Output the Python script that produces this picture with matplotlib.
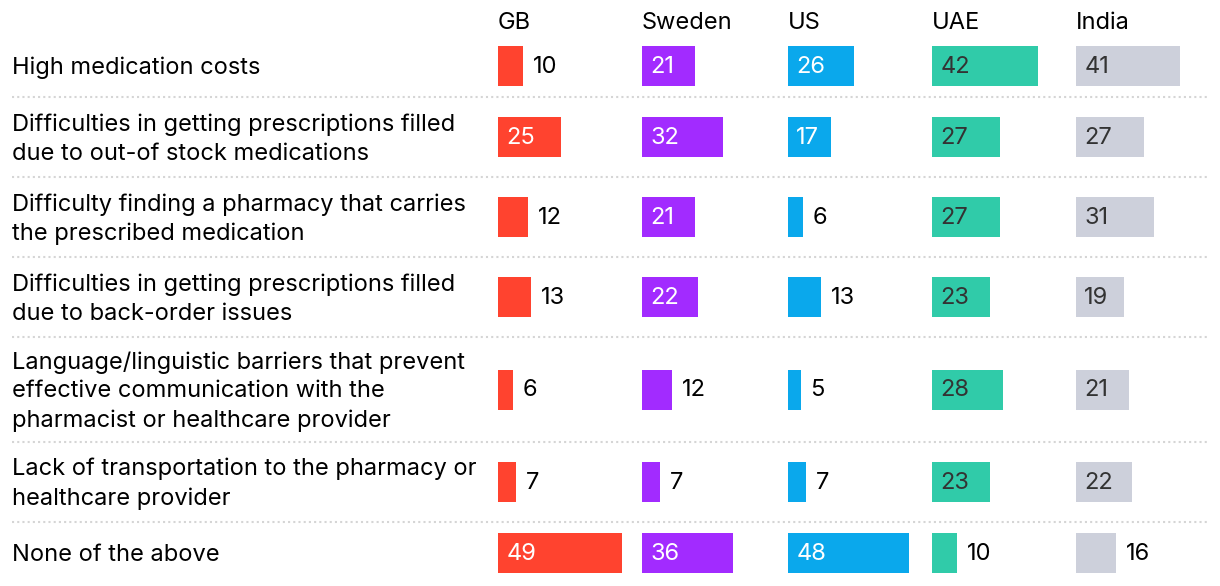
import matplotlib
matplotlib.use("Agg")
import matplotlib.pyplot as plt

plt.rcParams["font.family"] = ["Inter", "DejaVu Sans"]

categories = [
    "High medication costs",
    "Difficulties in getting prescriptions filled\ndue to out-of stock medications",
    "Difficulty finding a pharmacy that carries\nthe prescribed medication",
    "Difficulties in getting prescriptions filled\ndue to back-order issues",
    "Language/linguistic barriers that prevent\neffective communication with the\npharmacist or healthcare provider",
    "Lack of transportation to the pharmacy or\nhealthcare provider",
    "None of the above",
]
countries = ["GB", "Sweden", "US", "UAE", "India"]
gb = [10, 25, 12, 13, 6, 7, 49]
sweden = [21, 32, 21, 22, 12, 7, 36]
us = [26, 17, 6, 13, 5, 7, 48]
uae = [42, 27, 27, 23, 28, 23, 10]
india = [41, 27, 31, 19, 21, 22, 16]

series = [gb, sweden, us, uae, india]
colors = ["#FF432F", "#A22BFF", "#0AA8EC", "#30CBA9", "#CDD0DB"]
inside_text = ["white", "white", "white", "#333333", "#333333"]

W, H = 1220, 586
fig = plt.figure(figsize=(W / 100, H / 100), dpi=100)

# background axes in pixel units for labels and separators
bg = fig.add_axes([0, 0, 1, 1])
bg.set_xlim(0, W)
bg.set_ylim(H, 0)
bg.axis("off")

# row layout depends on number of label lines
row_h = {1: 62, 2: 80, 3: 105}
top = 35
centers = []
bounds = []
for cat in categories:
    h = row_h[cat.count("\n") + 1]
    centers.append(top + h / 2)
    top += h
    bounds.append(top)

fs = 17
for cat, cy in zip(categories, centers):
    bg.text(12, cy + 2, cat, fontsize=fs, va="center", ha="left", color="#000000",
            linespacing=1.4)
for b in bounds[:-1]:
    bg.plot([12, 1208], [b, b], color="#D5D5D5", lw=1.5, ls=(0, (1, 1.5)))

col_left = [498, 642, 788, 932, 1076]
col_w = 140
px_per_unit = 2.53

for i, (name, vals) in enumerate(zip(countries, series)):
    ax = fig.add_axes([col_left[i] / W, 0, col_w / W, 1])
    ax.set_xlim(0, col_w / px_per_unit)
    ax.set_ylim(H, 0)
    ax.axis("off")
    ax.barh(centers, vals, height=40, color=colors[i])
    ax.text(0, 23, name, fontsize=fs, va="center", ha="left", color="#000000")
    for v, cy in zip(vals, centers):
        if v >= 17:
            ax.annotate(str(v), (0, cy + 1), xytext=(6, 0), textcoords="offset points",
                        va="center", ha="left", fontsize=fs, color=inside_text[i])
        else:
            ax.annotate(str(v), (v, cy + 1), xytext=(7, 0), textcoords="offset points",
                        va="center", ha="left", fontsize=fs, color="#000000")

fig.savefig("out.png", dpi=100)
